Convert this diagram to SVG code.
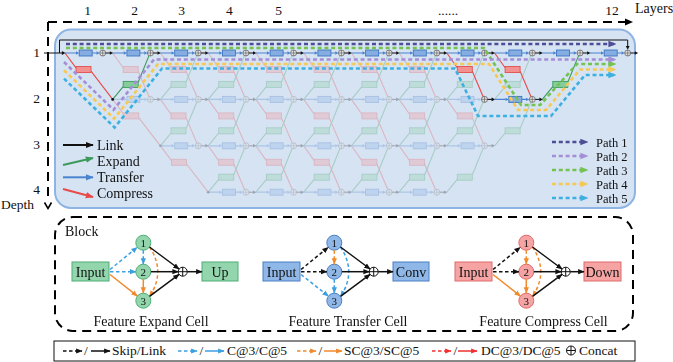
<svg xmlns="http://www.w3.org/2000/svg" width="673" height="362" viewBox="0 0 673 362">
<style>
text{font-family:"Liberation Serif","Times New Roman",serif;fill:#111;font-size:14px}
.s13{font-size:13.5px}
.s12{font-size:12.5px}
.s11{font-size:11px}
.mid{text-anchor:middle}
.lb{stroke:#4a84cf;stroke-width:1.2;fill:none}
.fb{fill:#4a84cf}
.xb{fill:#86ade2;stroke:#3d74c0;stroke-width:.9}
.lr{stroke:#e84a4a;stroke-width:1.1;fill:none}
.xr{fill:#f39191;stroke:#e05050;stroke-width:.9}
.lg{stroke:#3c9a5c;stroke-width:1.1;fill:none}
.xg{fill:#86cd9e;stroke:#3c9a5c;stroke-width:.9}
.nc{fill:#e4e4e4;stroke:#555;stroke-width:.7}
.nx{stroke:#555;stroke-width:.6;fill:none}
.lk{stroke:#111;stroke-width:1;fill:none}
.ax{stroke:#000;stroke-width:2;fill:none;stroke-dasharray:9 6}
.pd{fill:none;stroke-width:2.6;stroke-dasharray:4 2.8}
.p1{stroke:#4e4e96}.p2{stroke:#a48fd6}.p3{stroke:#74c24f}.p4{stroke:#f6c955}.p5{stroke:#3db0e2}
.e{fill:none;stroke-width:1.5}
.ek{stroke:#111}.eb{stroke:#3c9fe0}.eo{stroke:#f08a2c}.er{stroke:#ee3030}
.d{stroke-dasharray:3.5 2.5}
.ig{fill:#93d6ad;stroke:#4fae74;stroke-width:1}
.ib{fill:#8fb7e7;stroke:#4a7fc4;stroke-width:1}
.ir{fill:#f5a3a3;stroke:#e06a6a;stroke-width:1}
.oc{fill:#fff;stroke:#111;stroke-width:1}
</style>
<defs>
<marker id="ak" viewBox="0 0 10 10" refX="9" refY="5" markerWidth="6.5" markerHeight="6.5" markerUnits="userSpaceOnUse" orient="auto"><path d="M0,1L10,5L0,9z" fill="#111"/></marker>
<marker id="ab" viewBox="0 0 10 10" refX="9" refY="5" markerWidth="6.5" markerHeight="6.5" markerUnits="userSpaceOnUse" orient="auto"><path d="M0,1L10,5L0,9z" fill="#3c9fe0"/></marker>
<marker id="ao" viewBox="0 0 10 10" refX="9" refY="5" markerWidth="6.5" markerHeight="6.5" markerUnits="userSpaceOnUse" orient="auto"><path d="M0,1L10,5L0,9z" fill="#f08a2c"/></marker>
<marker id="ar" viewBox="0 0 10 10" refX="9" refY="5" markerWidth="6.5" markerHeight="6.5" markerUnits="userSpaceOnUse" orient="auto"><path d="M0,1L10,5L0,9z" fill="#ee3030"/></marker>
<marker id="Ak" viewBox="0 0 10 10" refX="9" refY="5" markerWidth="8" markerHeight="8" markerUnits="userSpaceOnUse" orient="auto"><path d="M0,1L10,5L0,9z" fill="#111"/></marker>
<marker id="Ag" viewBox="0 0 10 10" refX="9" refY="5" markerWidth="8" markerHeight="8" markerUnits="userSpaceOnUse" orient="auto"><path d="M0,1L10,5L0,9z" fill="#3c9a5c"/></marker>
<marker id="Ab" viewBox="0 0 10 10" refX="9" refY="5" markerWidth="8" markerHeight="8" markerUnits="userSpaceOnUse" orient="auto"><path d="M0,1L10,5L0,9z" fill="#4a84cf"/></marker>
<marker id="Ar" viewBox="0 0 10 10" refX="9" refY="5" markerWidth="8" markerHeight="8" markerUnits="userSpaceOnUse" orient="auto"><path d="M0,1L10,5L0,9z" fill="#e84a4a"/></marker>
<marker id="a1" viewBox="0 0 10 10" refX="7" refY="5" markerWidth="8" markerHeight="8" markerUnits="userSpaceOnUse" orient="auto"><path d="M0,1L10,5L0,9z" fill="#4e4e96"/></marker>
<marker id="a2" viewBox="0 0 10 10" refX="7" refY="5" markerWidth="8" markerHeight="8" markerUnits="userSpaceOnUse" orient="auto"><path d="M0,1L10,5L0,9z" fill="#a48fd6"/></marker>
<marker id="a3" viewBox="0 0 10 10" refX="7" refY="5" markerWidth="8" markerHeight="8" markerUnits="userSpaceOnUse" orient="auto"><path d="M0,1L10,5L0,9z" fill="#74c24f"/></marker>
<marker id="a4" viewBox="0 0 10 10" refX="7" refY="5" markerWidth="8" markerHeight="8" markerUnits="userSpaceOnUse" orient="auto"><path d="M0,1L10,5L0,9z" fill="#f6c955"/></marker>
<marker id="a5" viewBox="0 0 10 10" refX="7" refY="5" markerWidth="8" markerHeight="8" markerUnits="userSpaceOnUse" orient="auto"><path d="M0,1L10,5L0,9z" fill="#3db0e2"/></marker>
<g id="tu">
<path class="lb" d="M-37.7,0H-26.5M-10.5,0H-6"/>
<path class="fb" d="M-23.5,0l-3.2,-1.7v3.4zM-3,0l-3.2,-1.7v3.4z"/>
<rect class="xb" x="-23.5" y="-3" width="13" height="6"/>
</g>
<g id="cn">
<circle class="nc" r="3"/><path class="nx" d="M-3,0H3M0,-3V3"/>
<path class="lk" d="M3,0H7.5"/><path d="M10.5,0l-3.4,-1.8v3.6z" fill="#111"/>
</g>
<g id="tn"><use href="#tu"/><use href="#cn"/></g>
<g id="cu">
<path class="lr" d="M-37.7,-46.4L-27.2,-31.6M-12.2,-28.2L-1.3,-2.7"/>
<rect class="xr" x="-27.2" y="-32.9" width="15" height="6"/>
</g>
<g id="eu">
<path class="lg" d="M-37.7,46.4L-27.2,33.6M-12.2,29.2L-1.4,2.6"/>
<rect class="xg" x="-27.2" y="28.4" width="15" height="6"/>
</g>
<g id="su">
<path class="lr" d="M-47.7,-46.4L-36.7,-31.6M-21.7,-28.2L0,0"/>
<rect class="xr" x="-36.7" y="-32.9" width="15" height="6"/>
</g>
</defs>

<g id="axes">
<path class="ax" d="M48,22H626"/>
<path d="M625,18.5L633,22L625,25.5z" fill="#000"/>
<path class="ax" d="M48,22V200"/>
<path d="M44.5,202.5L48,208.5L51.5,202.5" fill="none" stroke="#000" stroke-width="1.6"/>
<text class="s13 mid" x="87.7" y="14.5">1</text>
<text class="s13 mid" x="134.7" y="14.5">2</text>
<text class="s13 mid" x="181.7" y="14.5">3</text>
<text class="s13 mid" x="229.3" y="14.5">4</text>
<text class="s13 mid" x="278.7" y="14.5">5</text>
<text class="s13 mid" x="448" y="14.5">......</text>
<text class="s13 mid" x="612" y="14.5">12</text>
<text x="635" y="12.5">Layers</text>
<text class="s13 mid" x="36.7" y="56.5">1</text>
<text class="s13 mid" x="36.7" y="103">2</text>
<text class="s13 mid" x="36.7" y="148.5">3</text>
<text class="s13 mid" x="36.7" y="194">4</text>
<text class="s13" x="1" y="209">Depth</text>
</g>

<rect id="stage" x="55" y="29.5" width="580" height="178.5" rx="16" fill="#d6e3f3" stroke="#8eb4e3" stroke-width="2"/>

<g id="grid-faded" opacity="0.3">
<use href="#cu" x="150.4" y="99.4"/><use href="#cu" x="198.2" y="99.4"/><use href="#cu" x="245.9" y="99.4"/><use href="#cu" x="293.6" y="99.4"/><use href="#cu" x="341.4" y="99.4"/><use href="#cu" x="389.1" y="99.4"/><use href="#cu" x="436.8" y="99.4"/>
<use href="#cu" x="198.2" y="145.8"/><use href="#cu" x="245.9" y="145.8"/><use href="#cu" x="293.6" y="145.8"/><use href="#cu" x="341.4" y="145.8"/><use href="#cu" x="389.1" y="145.8"/><use href="#cu" x="436.8" y="145.8"/><use href="#cu" x="484.5" y="145.8"/>
<use href="#cu" x="245.9" y="192.2"/><use href="#cu" x="293.6" y="192.2"/><use href="#cu" x="341.4" y="192.2"/><use href="#cu" x="389.1" y="192.2"/><use href="#cu" x="436.8" y="192.2"/>
<use href="#eu" x="198.2" y="53"/><use href="#eu" x="245.9" y="53"/><use href="#eu" x="293.6" y="53"/><use href="#eu" x="341.4" y="53"/><use href="#eu" x="389.1" y="53"/><use href="#eu" x="436.8" y="53"/><use href="#eu" x="484.5" y="53"/><use href="#eu" x="532.3" y="53"/>
<use href="#eu" x="198.2" y="99.4"/><use href="#eu" x="245.9" y="99.4"/><use href="#eu" x="293.6" y="99.4"/><use href="#eu" x="341.4" y="99.4"/><use href="#eu" x="389.1" y="99.4"/><use href="#eu" x="436.8" y="99.4"/><use href="#eu" x="484.5" y="99.4"/><use href="#eu" x="532.3" y="99.4"/>
<use href="#eu" x="245.9" y="145.8"/><use href="#eu" x="293.6" y="145.8"/><use href="#eu" x="341.4" y="145.8"/><use href="#eu" x="389.1" y="145.8"/><use href="#eu" x="436.8" y="145.8"/><use href="#eu" x="484.5" y="145.8"/>
<use href="#su" x="160.4" y="145.8"/><use href="#su" x="208.2" y="192.2"/>
<use href="#tn" x="150.4" y="99.4"/><use href="#tn" x="198.2" y="99.4"/><use href="#tn" x="245.9" y="99.4"/><use href="#tn" x="293.6" y="99.4"/><use href="#tn" x="341.4" y="99.4"/><use href="#tn" x="389.1" y="99.4"/><use href="#tn" x="436.8" y="99.4"/><use href="#tn" x="484.5" y="99.4"/>
<use href="#tn" x="198.2" y="145.8"/><use href="#tn" x="245.9" y="145.8"/><use href="#tn" x="293.6" y="145.8"/><use href="#tn" x="341.4" y="145.8"/><use href="#tn" x="389.1" y="145.8"/><use href="#tn" x="436.8" y="145.8"/><use href="#tn" x="484.5" y="145.8"/>
<use href="#tn" x="245.9" y="192.2"/><use href="#tn" x="293.6" y="192.2"/><use href="#tn" x="341.4" y="192.2"/><use href="#tn" x="389.1" y="192.2"/><use href="#tn" x="436.8" y="192.2"/>
<circle cx="160.4" cy="145.8" r="1.3" fill="#111"/><circle cx="208.2" cy="192.2" r="1.3" fill="#111"/>
</g>

<g id="grid-active">
<path class="lk" d="M44,53H62" stroke-width="1.2"/><path d="M65.5,53l-3.6,-1.9v3.8z" fill="#111"/>
<path class="lk" d="M59.5,53V40H627.7V46" stroke-width="1.2"/><path d="M627.7,49.8l-1.9,-3.8h3.8z" fill="#111"/>
<use href="#su" x="112.7" y="99.4"/>
<use href="#eu" x="150.4" y="53"/>
<use href="#eu" x="580" y="53"/>
<use href="#cu" x="484.5" y="99.4"/>
<use href="#cu" x="532.3" y="99.4"/>
<use href="#tn" x="102.7" y="53"/><use href="#tn" x="150.4" y="53"/><use href="#tn" x="198.2" y="53"/><use href="#tn" x="245.9" y="53"/><use href="#tn" x="293.6" y="53"/><use href="#tn" x="341.4" y="53"/><use href="#tn" x="389.1" y="53"/><use href="#tn" x="436.8" y="53"/><use href="#tn" x="484.5" y="53"/><use href="#tn" x="532.3" y="53"/><use href="#tn" x="580" y="53"/><use href="#tn" x="627.7" y="53"/>
<use href="#cn" x="484.5" y="99.4"/>
<use href="#tn" x="532.3" y="99.4"/>
<circle cx="112.7" cy="99.4" r="1.4" fill="#111"/>
</g>

<g id="paths">
<path class="pd p1" d="M66,44H614" marker-end="url(#a1)"/>
<path class="pd p3" d="M66,48H484L521,105H540L577,64H614" marker-end="url(#a3)"/>
<path class="pd p2" d="M64,62L113.5,109.8L154,59.5H614" marker-end="url(#a2)"/>
<path class="pd p4" d="M64,70.2L114.1,118.6L158,64H489L518,110H546L580,69.5H614" marker-end="url(#a4)"/>
<path class="pd p5" d="M64,78.6L114.6,127.5L162,68.5H455L478,116H551L585,75H614" marker-end="url(#a5)"/>
</g>

<g id="legend-ops">
<path d="M63,145H93" stroke="#111" stroke-width="2" marker-end="url(#Ak)"/>
<text x="97" y="150">Link</text>
<path d="M63,165L93,158" stroke="#3c9a5c" stroke-width="2" marker-end="url(#Ag)"/>
<text x="97" y="166">Expand</text>
<path d="M63,177.3H93" stroke="#4a84cf" stroke-width="2" marker-end="url(#Ab)"/>
<text x="97" y="181.5">Transfer</text>
<path d="M63,189L93,197" stroke="#e84a4a" stroke-width="2" marker-end="url(#Ar)"/>
<text x="97" y="197.5">Compress</text>
</g>

<g id="legend-paths">
<path class="pd p1" d="M552,142H586" marker-end="url(#a1)"/><text class="s12" x="596" y="146.5">Path 1</text>
<path class="pd p2" d="M552,156H586" marker-end="url(#a2)"/><text class="s12" x="596" y="160.5">Path 2</text>
<path class="pd p3" d="M552,170H586" marker-end="url(#a3)"/><text class="s12" x="596" y="174.5">Path 3</text>
<path class="pd p4" d="M552,184H586" marker-end="url(#a4)"/><text class="s12" x="596" y="188.5">Path 4</text>
<path class="pd p5" d="M552,198H586" marker-end="url(#a5)"/><text class="s12" x="596" y="202.5">Path 5</text>
</g>

<g id="block">
<rect class="ax" x="55" y="217" width="578" height="114" rx="18"/>
<text x="65" y="236">Block</text>
</g>

<g id="cell-expand">
<rect class="ig" x="72" y="262" width="37" height="19"/><text class="mid" x="90.5" y="276.5">Input</text>
<circle class="ig" cx="143.3" cy="242.7" r="7.5"/><text class="s11 mid" x="143.3" y="246.6">1</text>
<circle class="ig" cx="143.3" cy="271.7" r="7.5"/><text class="s11 mid" x="143.3" y="275.6">2</text>
<circle class="ig" cx="143.3" cy="300.7" r="7.5"/><text class="s11 mid" x="143.3" y="304.6">3</text>
<circle class="oc" cx="182.7" cy="271.7" r="4.5"/><path class="lk" d="M178.2,271.7H187.2M182.7,267.2V276.2"/>
<rect class="ig" x="202" y="262" width="36" height="19"/><text class="mid" x="220" y="276.5">Up</text>
<text class="mid" x="151" y="325.5">Feature Expand Cell</text>
</g>
<g id="cell-transfer">
<rect class="ib" x="263" y="262" width="37" height="19"/><text class="mid" x="281.5" y="276.5">Input</text>
<circle class="ib" cx="334.3" cy="242.7" r="7.5"/><text class="s11 mid" x="334.3" y="246.6">1</text>
<circle class="ib" cx="334.3" cy="271.7" r="7.5"/><text class="s11 mid" x="334.3" y="275.6">2</text>
<circle class="ib" cx="334.3" cy="300.7" r="7.5"/><text class="s11 mid" x="334.3" y="304.6">3</text>
<circle class="oc" cx="373.7" cy="271.7" r="4.5"/><path class="lk" d="M369.2,271.7H378.2M373.7,267.2V276.2"/>
<rect class="ib" x="393" y="262" width="36" height="19"/><text class="mid" x="411" y="276.5">Conv</text>
<text class="mid" x="348" y="325.5">Feature Transfer Cell</text>
</g>
<g id="cell-compress">
<rect class="ir" x="455" y="262" width="37" height="19"/><text class="mid" x="473.5" y="276.5">Input</text>
<circle class="ir" cx="526.3" cy="242.7" r="7.5"/><text class="s11 mid" x="526.3" y="246.6">1</text>
<circle class="ir" cx="526.3" cy="271.7" r="7.5"/><text class="s11 mid" x="526.3" y="275.6">2</text>
<circle class="ir" cx="526.3" cy="300.7" r="7.5"/><text class="s11 mid" x="526.3" y="304.6">3</text>
<circle class="oc" cx="565.7" cy="271.7" r="4.5"/><path class="lk" d="M561.2,271.7H570.2M565.7,267.2V276.2"/>
<rect class="ir" x="584" y="262" width="37" height="19"/><text class="mid" x="602.5" y="276.5">Down</text>
<text class="mid" x="543.5" y="325.5">Feature Compress Cell</text>
</g>

<g id="connectors">
<g id="conn-expand">
<path class="e eb d" d="M110,269.5L137.2,247.4" marker-end="url(#ab)"/>
<path class="e eb d" d="M110,271.7H135.8" marker-end="url(#ab)"/>
<path class="e eo" d="M110,274.5L137.4,296.1" marker-end="url(#ao)"/>
<path class="e eb d" d="M143.3,250.2V264.2" marker-end="url(#ab)"/>
<path class="e eo" d="M143.3,279.2V293.2" marker-end="url(#ao)"/>
<path class="e eo d" d="M149.5,247Q166,271.7 149.5,296.5" marker-end="url(#ao)"/>
<path class="e ek" d="M149.5,247L179.1,269" marker-end="url(#ak)"/>
<path class="e ek" d="M150.8,271.7H178.2" marker-end="url(#ak)"/>
<path class="e ek" d="M149.5,296.4L179.1,274.4" marker-end="url(#ak)"/>
<path class="e ek" d="M187.2,271.7H202" marker-end="url(#ak)"/>
</g>
<g id="conn-transfer" transform="translate(191,0)">
<path class="e ek d" d="M110,269.5L137.2,247.4" marker-end="url(#ak)"/>
<path class="e ek d" d="M110,271.7H135.8" marker-end="url(#ak)"/>
<path class="e eb d" d="M110,274.5L137.4,296.1" marker-end="url(#ab)"/>
<path class="e eo d" d="M143.3,250.2V264.2" marker-end="url(#ao)"/>
<path class="e eb d" d="M143.3,279.2V293.2" marker-end="url(#ab)"/>
<path class="e eb d" d="M149.5,247Q166,271.7 149.5,296.5" marker-end="url(#ab)"/>
<path class="e ek" d="M149.5,247L179.1,269" marker-end="url(#ak)"/>
<path class="e ek" d="M150.8,271.7H178.2" marker-end="url(#ak)"/>
<path class="e ek" d="M149.5,296.4L179.1,274.4" marker-end="url(#ak)"/>
<path class="e ek" d="M187.2,271.7H202" marker-end="url(#ak)"/>
</g>
<g id="conn-compress" transform="translate(383,0)">
<path class="e ek d" d="M110,269.5L137.2,247.4" marker-end="url(#ak)"/>
<path class="e ek d" d="M110,271.7H135.8" marker-end="url(#ak)"/>
<path class="e eo" d="M110,274.5L137.4,296.1" marker-end="url(#ao)"/>
<path class="e eo d" d="M143.3,250.2V264.2" marker-end="url(#ao)"/>
<path class="e eo" d="M143.3,279.2V293.2" marker-end="url(#ao)"/>
<path class="e eo d" d="M149.5,247Q166,271.7 149.5,296.5" marker-end="url(#ao)"/>
<path class="e ek" d="M149.5,247L179.1,269" marker-end="url(#ak)"/>
<path class="e ek" d="M150.8,271.7H178.2" marker-end="url(#ak)"/>
<path class="e ek" d="M149.5,296.4L179.1,274.4" marker-end="url(#ak)"/>
<path class="e ek" d="M187.2,271.7H201" marker-end="url(#ak)"/>
</g>
</g>

<g id="legend-bottom">
<rect x="54" y="341" width="581" height="20" fill="#fff" stroke="#111" stroke-width="1"/>
<path class="e ek d" d="M63,351H82" marker-end="url(#ak)"/>
<text class="s13" x="84" y="355">/</text>
<path class="e ek" d="M91,351H110" marker-end="url(#ak)"/>
<text class="s13" x="112" y="355">Skip/Link</text>
<path class="e eb d" d="M178,351H197" marker-end="url(#ab)"/>
<text class="s13" x="199.5" y="355">/</text>
<path class="e eb" d="M205,351H224" marker-end="url(#ab)"/>
<text class="s13" x="227" y="355">C@3/C@5</text>
<path class="e eo d" d="M297,351H316" marker-end="url(#ao)"/>
<text class="s13" x="318.5" y="355">/</text>
<path class="e eo" d="M324,351H342" marker-end="url(#ao)"/>
<text class="s13" x="344" y="355">SC@3/SC@5</text>
<path class="e er d" d="M432,351H451" marker-end="url(#ar)"/>
<text class="s13" x="453.5" y="355">/</text>
<path class="e er" d="M458,351H477" marker-end="url(#ar)"/>
<text class="s13" x="481" y="355">DC@3/DC@5</text>
<circle class="oc" cx="571" cy="350.5" r="4.5"/><path class="lk" d="M566.5,350.5H575.5M571,346V355"/>
<text class="s13" x="579" y="355">Concat</text>
</g>
</svg>
